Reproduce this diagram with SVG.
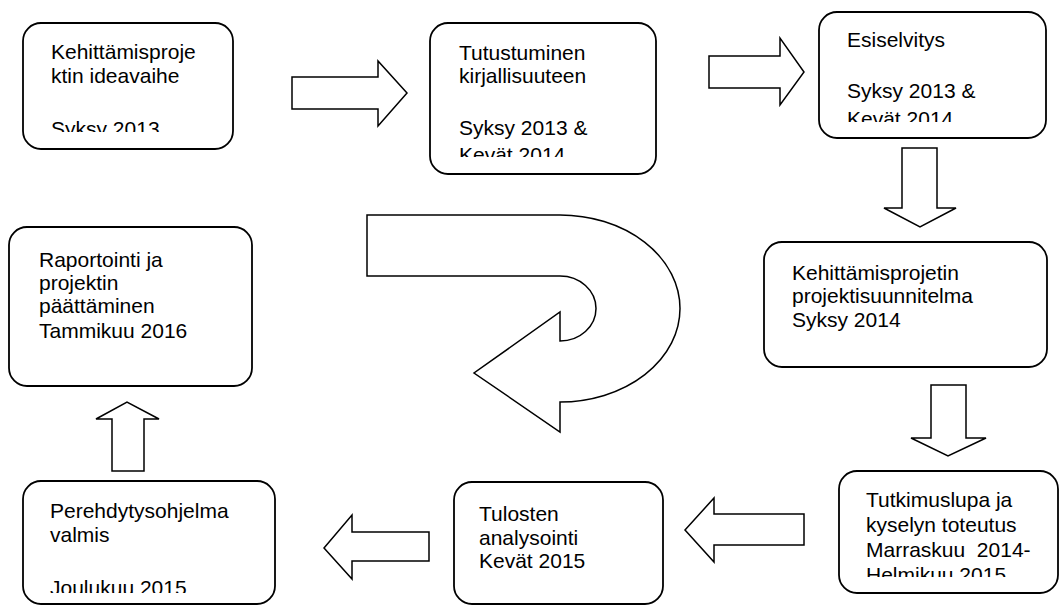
<svg xmlns="http://www.w3.org/2000/svg" width="1060" height="605" viewBox="0 0 1060 605">
<style>
.box{fill:#fff;stroke:#000;stroke-width:1.8}
.arr{fill:#fff;stroke:#000;stroke-width:1.5;stroke-linejoin:miter}
text{font-family:"Liberation Sans",Arial,sans-serif;font-size:21px;fill:#000;white-space:pre}
</style>
<defs>
<clipPath id="c1"><rect x="0" y="0" width="260" height="132"/></clipPath>
<clipPath id="c2"><rect x="430" y="0" width="230" height="157"/></clipPath>
<clipPath id="c3"><rect x="819" y="0" width="230" height="122"/></clipPath>
<clipPath id="c5"><rect x="839" y="460" width="221" height="117"/></clipPath>
<clipPath id="c7"><rect x="0" y="470" width="280" height="123"/></clipPath>
</defs>
<rect width="1060" height="605" fill="#fff"/>
<g id="connectors">
<polygon class="arr" points="292,77 378,77 378,61 407,93 378,126 378,109 292,109"/>
<polygon class="arr" points="709,56 780,56 780,38 804,72 780,105 780,88 709,88"/>
<polygon class="arr" points="902,148 937,148 937,208 956,208 920,227 884,208 902,208"/>
<polygon class="arr" points="931,385 966,385 966,438 986,438 948,456 911,438 931,438"/>
<polygon class="arr" points="804,514 804,545 714,545 714,562 685,530 714,498 714,514"/>
<polygon class="arr" points="429,532 429,561 352,561 352,579 324,548 352,515 352,532"/>
<polygon class="arr" points="112,471 144,471 144,419 159,419 127,402 96,419 112,419"/>
<path class="arr" d="M367,215 L560,215 A120,93.5 0 0 1 560,402 L560,432 L474,373 L560,312 L560,341 A36,32.5 0 0 0 560,276 L367,276 Z"/>
</g>
<g id="n1">
<rect class="box" x="23" y="23" width="210" height="126" rx="18"/>
<g clip-path="url(#c1)">
<text x="51" y="59">Kehittämisproje</text>
<text x="51" y="83">ktin ideavaihe</text>
<text x="51" y="136">Syksy 2013</text>
</g>
</g>
<g id="n2">
<rect class="box" x="430" y="23" width="226" height="151" rx="18"/>
<g clip-path="url(#c2)">
<text x="459" y="60">Tutustuminen</text>
<text x="459" y="83">kirjallisuuteen</text>
<text x="459" y="135">Syksy 2013 &amp;</text>
<text x="459" y="162">Kevät 2014</text>
</g>
</g>
<g id="n3">
<rect class="box" x="819" y="12" width="227" height="126" rx="18"/>
<g clip-path="url(#c3)">
<text x="847" y="47">Esiselvitys</text>
<text x="847" y="98">Syksy 2013 &amp;</text>
<text x="847" y="126">Kevät 2014</text>
</g>
</g>
<g id="n4">
<rect class="box" x="764" y="242" width="283" height="125" rx="18"/>
<text x="792" y="280">Kehittämisprojetin</text>
<text x="792" y="303">projektisuunnitelma</text>
<text x="792" y="327">Syksy 2014</text>
</g>
<g id="n5">
<rect class="box" x="839" y="471" width="219" height="122" rx="18"/>
<g clip-path="url(#c5)">
<text x="866" y="507">Tutkimuslupa ja</text>
<text x="866" y="532">kyselyn toteutus</text>
<text x="866" y="557">Marraskuu  2014-</text>
<text x="866" y="582">Helmikuu 2015</text>
</g>
</g>
<g id="n6">
<rect class="box" x="454" y="482" width="209" height="122" rx="18"/>
<text x="479" y="521">Tulosten</text>
<text x="479" y="545">analysointi</text>
<text x="479" y="568">Kevät 2015</text>
</g>
<g id="n7">
<rect class="box" x="23" y="481" width="252" height="123" rx="18"/>
<g clip-path="url(#c7)">
<text x="50" y="518">Perehdytysohjelma</text>
<text x="50" y="542">valmis</text>
<text x="50" y="595">Joulukuu 2015</text>
</g>
</g>
<g id="n8">
<rect class="box" x="9" y="227" width="243" height="159" rx="18"/>
<text x="39" y="267">Raportointi ja</text>
<text x="39" y="290">projektin</text>
<text x="39" y="313">päättäminen</text>
<text x="39" y="338">Tammikuu 2016</text>
</g>
</svg>
